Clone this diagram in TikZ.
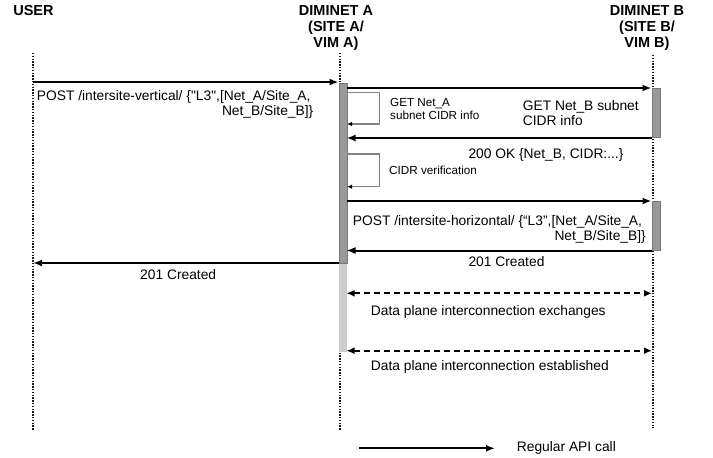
\documentclass[tikz,border=0pt]{standalone}
\usepackage{fontspec}
\setmainfont{Liberation Sans}
\newfontfamily\rawfont{Liberation Sans}[Ligatures=TeXOff]
\usetikzlibrary{arrows.meta}
\newcommand{\sq}{{\rawfont"}}
\begin{document}
\begin{tikzpicture}[x=1pt,y=-1pt,
  lifeline/.style={line width=1.3pt, dash pattern=on 1.4pt off 1.4pt, black!90},
  msg/.style={line width=2pt, -{Latex[length=9pt,width=7pt]}},
  dmsg/.style={line width=2pt, dash pattern=on 6pt off 4pt, {Latex[length=8pt,width=7pt]}-{Latex[length=8pt,width=7pt]}},
  selfcall/.style={line width=1.1pt, draw=black!50, -{Latex[length=5pt,width=4.5pt,fill=black,color=black]}},
  actbar/.style={fill=black!40, draw=black!52, line width=0.8pt},
  actlight/.style={fill=black!20, draw=none},
  title/.style={font=\fontsize{14.5}{16}\selectfont\bfseries, inner sep=0pt, anchor=base},
  lbl/.style={font=\fontsize{13.8}{16}\selectfont, inner sep=0pt},
  slbl/.style={font=\fontsize{11.7}{13}\selectfont, inner sep=0pt},
]
\useasboundingbox (0,0) rectangle (713,458);

% titles
\node[title] (tuser) at (33.5,15) {USER};
\node[title] (ta1) at (336,15) {DIMINET A};
\node[title] (ta2) at (336,31) {(SITE A/};
\node[title] (ta3) at (336,47) {VIM A)};
\node[title] (tb1) at (647,15) {DIMINET B};
\node[title] (tb2) at (647,31) {(SITE B/};
\node[title] (tb3) at (647,47) {VIM B)};

% lifelines
\coordinate (utop) at (33,53);  \coordinate (ubot) at (33,430);
\coordinate (atop) at (340,53); \coordinate (abot) at (340,430);
\coordinate (btop) at (653,55); \coordinate (bbot) at (653,428);
\draw[lifeline] (utop) -- (ubot);
\draw[lifeline] (atop) -- (abot);
\draw[lifeline] (btop) -- (bbot);

% activation bars
\node[actlight, minimum width=8pt, minimum height=89pt, inner sep=0pt, anchor=north west] (abarlight) at (338.5,263) {};
\node[actbar, minimum width=8pt, minimum height=180pt, inner sep=0pt, anchor=north west] (abar) at (338.5,83) {};
\node[actbar, minimum width=8pt, minimum height=49pt, inner sep=0pt, anchor=north west] (bbar1) at (651.5,88) {};
\node[actbar, minimum width=8pt, minimum height=49pt, inner sep=0pt, anchor=north west] (bbar2) at (651.5,201) {};

% message points
\coordinate (m1s) at (33,82);    \coordinate (m1e) at (338.5,82);
\coordinate (m2s) at (346.5,88); \coordinate (m2e) at (651.5,88);
\coordinate (m3s) at (651.5,138); \coordinate (m3e) at (346.5,138);
\coordinate (m4s) at (346.5,201); \coordinate (m4e) at (651.5,201);
\coordinate (m5s) at (651.5,250.5); \coordinate (m5e) at (346.5,250.5);
\coordinate (m6s) at (338.5,263); \coordinate (m6e) at (33,263);
\coordinate (d1s) at (346.5,293.3); \coordinate (d1e) at (652,293.3);
\coordinate (d2s) at (346.5,350.7); \coordinate (d2e) at (652,350.7);
\coordinate (s1a) at (346.5,92.7); \coordinate (s1b) at (379.3,92.7);
\coordinate (s1c) at (379.3,124);  \coordinate (s1d) at (347,124);
\coordinate (s2a) at (346.5,154);  \coordinate (s2b) at (379.3,154);
\coordinate (s2c) at (379.3,186.7); \coordinate (s2d) at (347,186.7);
\coordinate (lgs) at (359,448.3);  \coordinate (lge) at (495,448.3);

% messages
\draw[msg] (m1s) -- (m1e);
\draw[msg] (m2s) -- (m2e);
\draw[selfcall] (s1a) -- (s1b) -- (s1c) -- (s1d);
\draw[msg] (m3s) -- (m3e);
\draw[selfcall] (s2a) -- (s2b) -- (s2c) -- (s2d);
\draw[msg] (m4s) -- (m4e);
\draw[msg] (m5s) -- (m5e);
\draw[msg] (m6s) -- (m6e);
\draw[dmsg] (d1s) -- (d1e);
\draw[dmsg] (d2s) -- (d2e);
\draw[msg] (lgs) -- (lge);

% labels
\node[lbl, anchor=base west] (l1a) at (36.7,100.7) {POST /intersite-vertical/ \{\sq L3\sq,[Net\_A/Site\_A,};
\node[lbl, anchor=base east] (l1b) at (313.5,115) {Net\_B/Site\_B]\}};
\node[lbl, anchor=base west] (l2a) at (522.7,110) {GET Net\_B subnet};
\node[lbl, anchor=base west] (l2b) at (522.7,125.5) {CIDR info};
\node[slbl, anchor=base west] (s1la) at (390,106) {GET Net\_A};
\node[slbl, anchor=base west] (s1lb) at (390,119.3) {subnet CIDR info};
\node[lbl, anchor=base west] (l3) at (468.3,158) {200 OK \{Net\_B, CIDR:...\}};
\node[slbl, anchor=base west] (s2l) at (389,174) {CIDR verification};
\node[lbl, anchor=base west] (l4a) at (352.7,225) {POST /intersite-horizontal/ \{“L3”,[Net\_A/Site\_A,};
\node[lbl, anchor=base east] (l4b) at (646,240) {Net\_B/Site\_B]\}};
\node[lbl, anchor=base west] (l5) at (468.3,266.5) {201 Created};
\node[lbl, anchor=base west] (l6) at (140,279) {201 Created};
\node[lbl, anchor=base west] (ld1) at (370.7,315.7) {Data plane interconnection exchanges};
\node[lbl, anchor=base west] (ld2) at (370.7,370.7) {Data plane interconnection established};
\node[lbl, anchor=base west] (llg) at (516.7,451.5) {Regular API call};
\end{tikzpicture}
\end{document}
